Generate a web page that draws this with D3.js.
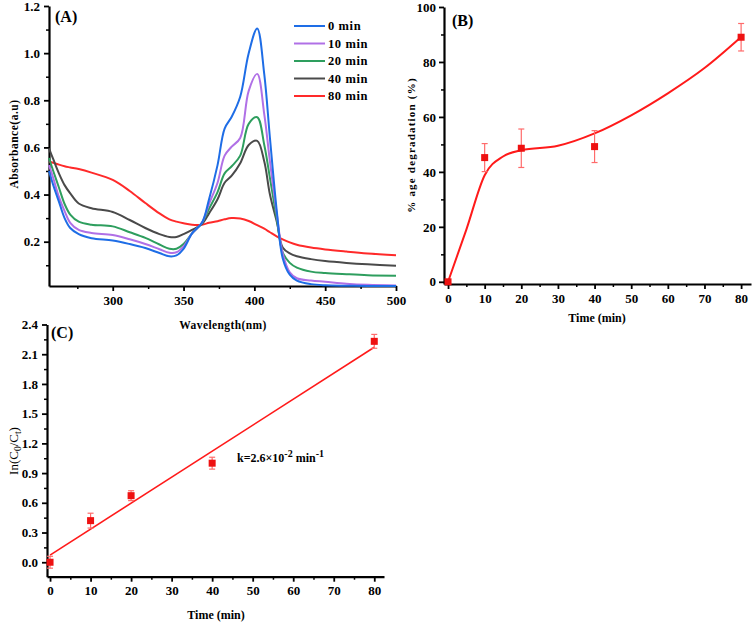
<!DOCTYPE html>
<html><head><meta charset="utf-8">
<script src="https://cdn.jsdelivr.net/npm/d3@7"></script>
<style>
body{margin:0;background:#fff;}
svg text{font-family:"Liberation Serif","Times New Roman",serif !important;font-weight:bold;}
</style></head>
<body><svg id="c" width="754" height="622"></svg>
<script>
// ---------- Panel A data ----------
const wavelengths = [255,258,262,266,270,276,285,300,312,323,333,340,345,350,356,363,368,374,379,384,390,396,402,407,411,416,420,425,430,440,450,465,480,500];
const abs0  = [0.50,0.44,0.37,0.30,0.258,0.232,0.215,0.205,0.19,0.173,0.152,0.138,0.142,0.17,0.235,0.28,0.38,0.525,0.68,0.73,0.815,1.0,1.105,0.91,0.64,0.32,0.13,0.06,0.035,0.02,0.015,0.013,0.012,0.012];
const abs10 = [0.525,0.47,0.39,0.33,0.28,0.25,0.237,0.228,0.21,0.19,0.168,0.153,0.155,0.18,0.235,0.28,0.36,0.45,0.565,0.603,0.64,0.84,0.912,0.74,0.54,0.31,0.15,0.07,0.045,0.035,0.03,0.022,0.017,0.014];
const abs20 = [0.555,0.50,0.43,0.36,0.315,0.285,0.272,0.265,0.24,0.216,0.188,0.17,0.17,0.19,0.235,0.28,0.34,0.41,0.49,0.52,0.565,0.70,0.728,0.61,0.47,0.29,0.155,0.11,0.09,0.073,0.067,0.062,0.058,0.056];
const abs40 = [0.596,0.55,0.49,0.44,0.405,0.362,0.342,0.326,0.292,0.258,0.232,0.22,0.22,0.232,0.25,0.275,0.32,0.38,0.45,0.48,0.533,0.61,0.628,0.54,0.40,0.28,0.175,0.15,0.138,0.126,0.118,0.11,0.104,0.098];
const abs80 = [0.54,0.535,0.527,0.52,0.515,0.508,0.493,0.462,0.415,0.364,0.32,0.295,0.285,0.278,0.272,0.272,0.28,0.287,0.295,0.30,0.298,0.288,0.27,0.255,0.24,0.222,0.21,0.197,0.187,0.175,0.167,0.158,0.15,0.142];
const seriesNames = ["0 min","10 min","20 min","40 min","80 min"];
const seriesColors = ["#1e6de6","#b070e6","#2e9e5e","#4a4a4a","#ff2a2a"];
const xTicksA = [300,350,400,450,500];
const yTicksA = [0.2,0.4,0.6,0.8,1.0,1.2];

// ---------- Panel B data ----------
const timeB = [0,10,20,40,80];
const degB = [0,45.2,48.6,49.2,89.0];
const errB = [0.5,5.1,7.0,5.8,5.0];
const fitTimeB = [0,5,10,15,20,30,40,50,60,70,80];
const fitDegB = [0,19,38.8,45.6,47.9,49.5,54,60.6,68.6,77.8,89.1];
const xTicksB = [0,10,20,30,40,50,60,70,80];
const yTicksB = [0,20,40,60,80,100];

// ---------- Panel C data ----------
const timeC = [0,10,20,40,80];
const lnC = [0.0,0.42,0.672,1.0,2.23];
const errC = [0.06,0.075,0.05,0.06,0.07];
const fitTimeC = [0,80];
const fitLnC = [0.072,2.17];
const xTicksC = [0,10,20,30,40,50,60,70,80];
const yTicksC = [0,0.3,0.6,0.9,1.2,1.5,1.8,2.1,2.4];

const FONT = "'Liberation Serif','Times New Roman',serif";
const svg = d3.select("#c");
svg.append("rect").attr("width",754).attr("height",622).attr("fill","#fff");

function axes(g, x, y, opt){
  const H = y.range()[0], L = x.range()[0];
  g.append("g").attr("transform",`translate(0,${H})`)
    .call(d3.axisBottom(x).tickValues(opt.xMinor).tickSize(3).tickFormat(""))
    .call(s=>s.select(".domain").remove())
    .call(s=>s.selectAll("line").attr("stroke","#000").attr("stroke-width",1.5));
  g.append("g").attr("transform",`translate(${L},0)`)
    .call(d3.axisLeft(y).tickValues(opt.yMinor).tickSize(3).tickFormat(""))
    .call(s=>s.select(".domain").remove())
    .call(s=>s.selectAll("line").attr("stroke","#000").attr("stroke-width",1.5));
  const xa = g.append("g").attr("transform",`translate(0,${H})`)
    .call(d3.axisBottom(x).tickValues(opt.xTicks).tickSize(5).tickSizeOuter(0).tickPadding(opt.padX||4).tickFormat(opt.xFmt));
  const ya = g.append("g").attr("transform",`translate(${L},0)`)
    .call(d3.axisLeft(y).tickValues(opt.yTicks).tickSize(5).tickSizeOuter(0).tickPadding(opt.padY||4).tickFormat(opt.yFmt));
  [xa,ya].forEach(a=>{
    a.attr("font-family",FONT).attr("font-size",13).attr("font-weight","bold");
    a.select(".domain").attr("stroke","#000").attr("stroke-width",2.2);
    a.selectAll(".tick line").attr("stroke","#000").attr("stroke-width",1.8);
    a.selectAll(".tick text").attr("fill","#000").style("font-size","13px");
  });
}

// ================= Panel A =================
{
  const x = d3.scaleLinear().domain([255,500]).range([49,396]);
  const y = d3.scaleLinear().domain([0.012,1.2]).range([286,6]);
  const g = svg.append("g");
  axes(g,x,y,{xTicks:xTicksA,yTicks:yTicksA,xMinor:[275,325,375,425,475],
    yMinor:[0.1,0.3,0.5,0.7,0.9,1.1],xFmt:d3.format("d"),yFmt:d3.format(".1f"),padX:5});
  const all = [abs0,abs10,abs20,abs40,abs80];
  const line = d3.line().x(d=>x(d[0])).y(d=>y(d[1])).curve(d3.curveCatmullRom.alpha(0.5));
  [4,3,2,1,0].forEach(i=>{
    g.append("path").datum(wavelengths.map((w,j)=>[w,all[i][j]]))
      .attr("d",line).attr("fill","none").attr("stroke",seriesColors[i]).attr("stroke-width",2);
  });
  const lg = g.append("g");
  seriesNames.forEach((n,i)=>{
    const yy = 26 + i*17.5;
    lg.append("line").attr("x1",294).attr("x2",325).attr("y1",yy).attr("y2",yy)
      .attr("stroke",seriesColors[i]).attr("stroke-width",2);
    lg.append("text").attr("x",328).attr("y",yy+4).text(n)
      .style("font-size","12.5px").style("letter-spacing","0.6px");
  });
  g.append("text").attr("x",55).attr("y",22).text("(A)").style("font-size","16px");
  g.append("text").attr("transform","translate(18,144) rotate(-90)").attr("text-anchor","middle")
    .text("Absorbance(a.u)").style("font-size","11.5px").style("letter-spacing","0.5px");
  g.append("text").attr("x",223).attr("y",329).attr("text-anchor","middle")
    .text("Wavelength(nm)").style("font-size","11.5px").style("letter-spacing","0.4px");
}

// ================= Panel B =================
{
  const x = d3.scaleLinear().domain([-1.1,82.7]).range([444,751]);
  const y = d3.scaleLinear().domain([-0.8,100]).range([284,7]);
  const g = svg.append("g");
  axes(g,x,y,{xTicks:xTicksB,yTicks:yTicksB,xMinor:[5,15,25,35,45,55,65,75],
    yMinor:[10,30,50,70,90],xFmt:d3.format("d"),yFmt:d3.format("d"),padX:5,padY:3});
  const line = d3.line().x(d=>x(d[0])).y(d=>y(d[1])).curve(d3.curveMonotoneX);
  g.append("path").datum(fitTimeB.map((t,i)=>[t,fitDegB[i]])).attr("d",line)
    .attr("fill","none").attr("stroke","#ff1a1a").attr("stroke-width",2);
  timeB.forEach((t,i)=>{
    const cx = x(t), y1 = y(degB[i]+errB[i]), y2 = y(degB[i]-errB[i]);
    g.append("line").attr("x1",cx).attr("x2",cx).attr("y1",y1).attr("y2",y2).attr("stroke","#ff6b6b").attr("stroke-width",1.2);
    [y1,y2].forEach(yy=>g.append("line").attr("x1",cx-3).attr("x2",cx+3).attr("y1",yy).attr("y2",yy).attr("stroke","#ff6b6b").attr("stroke-width",1.2));
    g.append("rect").attr("x",cx-3.5).attr("y",y(degB[i])-3.5).attr("width",7).attr("height",7).attr("fill","#ee1111");
  });
  g.append("text").attr("x",452).attr("y",26).text("(B)").style("font-size","16px");
  g.append("text").attr("transform","translate(415,145) rotate(-90)").attr("text-anchor","middle")
    .text("% age degradation (%)").style("font-size","11px").style("letter-spacing","1.2px");
  g.append("text").attr("x",597).attr("y",322).attr("text-anchor","middle")
    .text("Time (min)").style("font-size","12px");
}

// ================= Panel C =================
{
  const x = d3.scaleLinear().domain([-0.75,82.4]).range([47,384]);
  const y = d3.scaleLinear().domain([-0.146,2.4]).range([576.7,324.5]);
  const g = svg.append("g");
  axes(g,x,y,{xTicks:xTicksC,yTicks:yTicksC,xMinor:[5,15,25,35,45,55,65,75],
    yMinor:[0.15,0.45,0.75,1.05,1.35,1.65,1.95,2.25],xFmt:d3.format("d"),yFmt:d3.format(".1f")});
  g.append("path").datum(fitTimeC.map((t,i)=>[t,fitLnC[i]]))
    .attr("d",d3.line().x(d=>x(d[0])).y(d=>y(d[1])))
    .attr("fill","none").attr("stroke","#ff1a1a").attr("stroke-width",1.6);
  timeC.forEach((t,i)=>{
    const cx = x(t), y1 = y(lnC[i]+errC[i]), y2 = y(lnC[i]-errC[i]);
    g.append("line").attr("x1",cx).attr("x2",cx).attr("y1",y1).attr("y2",y2).attr("stroke","#ff6b6b").attr("stroke-width",1.2);
    [y1,y2].forEach(yy=>g.append("line").attr("x1",cx-3).attr("x2",cx+3).attr("y1",yy).attr("y2",yy).attr("stroke","#ff6b6b").attr("stroke-width",1.2));
    g.append("rect").attr("x",cx-3.5).attr("y",y(lnC[i])-3.5).attr("width",7).attr("height",7).attr("fill","#ee1111");
  });
  g.append("text").attr("x",51).attr("y",338).text("(C)").style("font-size","16px");
  const yl = g.append("text").attr("transform","translate(18,451) rotate(-90)").attr("text-anchor","middle")
    .style("font-size","13px").style("font-weight","normal");
  yl.append("tspan").text("In(C");
  yl.append("tspan").text("0").attr("dy",3).style("font-size","9.5px");
  yl.append("tspan").text("/C").attr("dy",-3);
  yl.append("tspan").text("t").attr("dy",3).style("font-size","9.5px");
  yl.append("tspan").text(")").attr("dy",-3);
  const k = g.append("text").attr("x",237).attr("y",462).style("font-size","12px");
  k.append("tspan").text("k=2.6×10");
  k.append("tspan").text("-2").attr("dy",-5).style("font-size","10px");
  k.append("tspan").text(" min").attr("dy",5);
  k.append("tspan").text("-1").attr("dy",-5).style("font-size","10px");
  g.append("text").attr("x",216).attr("y",619).attr("text-anchor","middle")
    .text("Time (min)").style("font-size","12px");
}
</script></body></html>
